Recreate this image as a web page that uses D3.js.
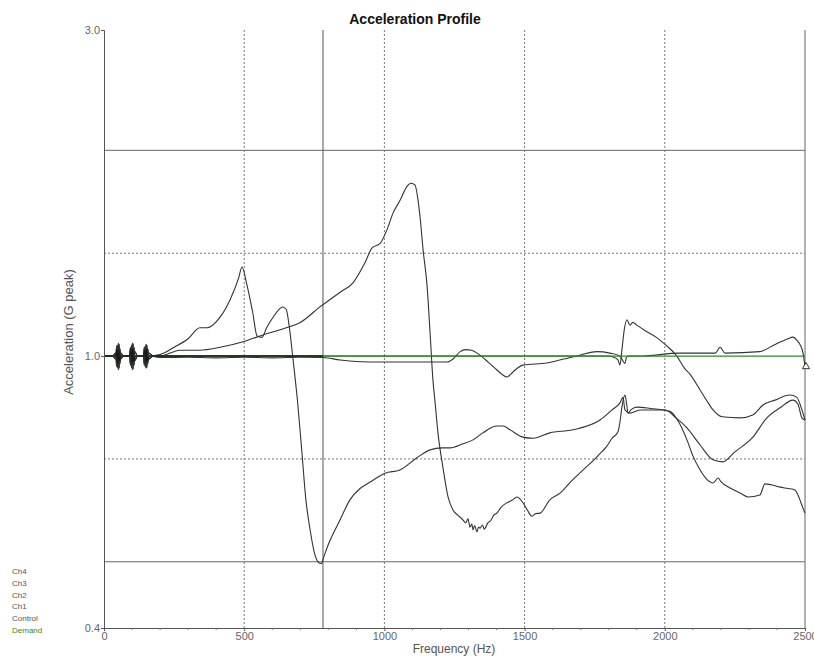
<!DOCTYPE html>
<html>
<head>
<meta charset="utf-8">
<script src="https://cdn.jsdelivr.net/npm/d3@7"></script>
<style>
  body { margin: 0; background: #fff; }
  svg { display: block; font-family: 'Liberation Sans', Arial, sans-serif; }
</style>
</head>
<body>
<svg id="chart" width="814" height="660"></svg>
<script>
'use strict'

// axis ticks and reference levels
const freqTicks = [0, 500, 1000, 1500, 2000, 2500]
const accelTicks = [0.4, 1.0, 3.0]
const abortLines = [0.5, 2.0]        // solid, +/- 6 dB
const alarmLines = [0.707, 1.414]    // dotted, +/- 3 dB
const cursorFreq = [781]
const endMarks = [[2500, 0.965]]
const legendLabels = ['Ch4', 'Ch3', 'Ch2', 'Ch1', 'Control', 'Demand']

// low frequency bursts (Hz, G)
const burstA = [[0,1.0],[30,1.0],[42,0.99],[45,1.035],[48,0.962],[51,1.045],[54,0.96],[57,1.025],[60,0.99],[70,1.0],
  [90,1.0],[95,1.03],[98,0.962],[101,1.045],[104,0.958],[107,1.03],[110,0.985],[120,1.0],
  [140,1.0],[144,1.03],[147,0.965],[150,1.04],[153,0.962],[156,1.025],[160,0.99],[175,1.0]]
const burstB = [[0,1.0],[30,1.0],[42,1.01],[45,0.965],[48,1.038],[51,0.955],[54,1.04],[57,0.975],[60,1.01],[70,1.0],
  [90,1.0],[95,0.97],[98,1.038],[101,0.955],[104,1.042],[107,0.97],[110,1.015],[120,1.0],
  [140,1.0],[144,0.97],[147,1.035],[150,0.96],[153,1.038],[156,0.975],[160,1.01],[175,1.0]]

const ch1 = burstB.concat([[200,1.0],[271,1.02],[342,1.02],[414,1.03],[499,1.05],[556,1.07],[650,1.10],[700,1.12],
  [770,1.18],[842,1.24],[888,1.28],[931,1.37],[956,1.44],[984,1.46],[1009,1.53],[1031,1.62],[1056,1.69],
  [1080,1.77],[1095,1.79],[1109,1.78],[1120,1.69],[1127,1.60],[1138,1.43],[1152,1.27],[1163,1.08],
  [1173,0.923],[1180,0.862],[1191,0.772],[1209,0.686],[1227,0.622],[1245,0.595],[1262,0.585],[1280,0.576],
  [1290,0.57],[1298,0.578],[1305,0.562],[1312,0.568],[1316,0.557],[1322,0.565],[1330,0.553],[1336,0.562],
  [1341,0.56],[1350,0.566],[1356,0.558],[1369,0.57],[1380,0.575],[1390,0.585],[1401,0.589],[1415,0.6],
  [1437,0.61],[1455,0.615],[1473,0.622],[1494,0.61],[1510,0.595],[1526,0.583],[1540,0.588],[1555,0.589],
  [1590,0.616],[1626,0.63],[1665,0.655],[1708,0.681],[1740,0.70],[1769,0.72],[1790,0.735],[1812,0.758],
  [1833,0.775],[1840,0.80],[1847,0.842],[1858,0.877],[1864,0.85],[1869,0.825],[1880,0.835],[1901,0.842],
  [1950,0.838],[2018,0.83],[2050,0.80],[2079,0.754],[2100,0.715],[2126,0.681],[2150,0.66],[2172,0.652],
  [2190,0.663],[2200,0.655],[2233,0.641],[2270,0.63],[2297,0.622],[2339,0.626],[2357,0.65],[2380,0.648],
  [2411,0.643],[2440,0.64],[2464,0.637],[2482,0.616],[2492,0.60],[2500,0.589]])

const ch2 = burstA.concat([[200,1.005],[250,1.03],[300,1.06],[342,1.10],[367,1.10],[414,1.14],[450,1.21],
  [480,1.30],[492,1.35],[510,1.27],[530,1.16],[546,1.07],[563,1.065],[580,1.10],[600,1.135],[638,1.18],
  [650,1.17],[660,1.11],[674,0.99],[690,0.86],[705,0.73],[720,0.616],[735,0.557],[750,0.516],[763,0.50],
  [775,0.497],[785,0.51],[800,0.53],[842,0.576],[877,0.616],[913,0.64],[949,0.654],[1002,0.674],[1055,0.681],
  [1116,0.71],[1163,0.729],[1205,0.734],[1234,0.734],[1280,0.744],[1316,0.754],[1351,0.772],[1401,0.79],
  [1423,0.79],[1448,0.78],[1494,0.761],[1530,0.758],[1590,0.772],[1672,0.78],[1769,0.806],[1812,0.834],
  [1840,0.854],[1851,0.87],[1858,0.834],[1876,0.825],[1911,0.834],[2001,0.834],[2040,0.812],[2079,0.785],
  [2126,0.741],[2172,0.705],[2207,0.70],[2250,0.724],[2314,0.761],[2364,0.812],[2411,0.84],[2457,0.862],
  [2475,0.85],[2489,0.812],[2500,0.806]])

const ch3 = burstB.concat([[200,0.995],[300,0.996],[400,0.994],[500,0.996],[600,0.994],[700,0.996],[781,0.995],
  [842,0.987],[900,0.982],[984,0.98],[1100,0.98],[1223,0.98],[1245,0.99],[1270,1.015],[1290,1.022],[1310,1.02],
  [1341,1.003],[1370,0.98],[1394,0.96],[1420,0.94],[1437,0.932],[1450,0.94],[1466,0.954],[1494,0.97],
  [1580,0.977],[1640,0.99],[1697,1.003],[1758,1.015],[1804,1.01],[1840,1.0],[1850,0.985],[1858,0.975],
  [1863,0.995],[1869,1.0],[1911,1.0],[2054,1.01],[2180,1.01],[2197,1.03],[2215,1.01],[2339,1.015],
  [2393,1.04],[2440,1.06],[2457,1.066],[2475,1.05],[2482,1.04],[2493,1.01],[2500,0.966]])

const ch4 = burstA.concat([[200,1.0],[800,1.0],[1400,1.0],[1800,1.0],[1815,0.997],[1833,0.987],[1840,0.97],
  [1847,1.02],[1855,1.09],[1865,1.13],[1876,1.11],[1886,1.12],[1900,1.11],[1929,1.09],[1970,1.065],[2001,1.04],
  [2043,1.0],[2070,0.96],[2090,0.94],[2126,0.892],[2150,0.86],[2172,0.834],[2204,0.815],[2268,0.812],
  [2314,0.82],[2350,0.848],[2393,0.862],[2446,0.877],[2471,0.87],[2489,0.834],[2500,0.806]])

// control only runs up to the sweep cursor
const control = [[0,1.0],[42,1.0],[46,1.02],[49,0.975],[52,1.025],[55,0.985],[60,1.0],[93,1.0],[97,1.022],
  [100,0.975],[103,1.025],[106,0.982],[112,1.0],[142,1.0],[146,1.02],[149,0.978],[152,1.022],[155,0.985],
  [162,1.0],[400,1.0],[781,1.0]]
const demand = [[0,1.0],[2500,1.0]]

const series = [
  {name: 'Ch4', data: ch4, color: '#333', width: 1.1},
  {name: 'Ch3', data: ch3, color: '#333', width: 1.1},
  {name: 'Ch2', data: ch2, color: '#333', width: 1.1},
  {name: 'Ch1', data: ch1, color: '#333', width: 1.1},
  {name: 'Demand', data: demand, color: '#2f8a2f', width: 1.2},
  {name: 'Control', data: control, color: '#1a1a1a', width: 1.5}
]

const svg = d3.select('#chart')
const plotLeft = 104, plotRight = 805, plotTop = 30, plotBottom = 628

const x = d3.scaleLinear().domain([0, 2500]).range([plotLeft, plotRight])
const y = d3.scaleLog().domain([0.4, 3.0]).range([plotBottom, plotTop])

// title
svg.append('text')
  .attr('x', 415).attr('y', 24)
  .attr('text-anchor', 'middle')
  .style('font-size', '14px').style('font-weight', 'bold').style('fill', '#111')
  .text('Acceleration Profile')

const grid = svg.append('g').attr('class', 'grid')

// vertical dotted grid
grid.selectAll('line.vgrid')
  .data(freqTicks.filter(f => f > 0 && f < 2500))
  .enter().append('line')
  .attr('class', 'vgrid')
  .attr('x1', d => x(d)).attr('x2', d => x(d))
  .attr('y1', plotTop).attr('y2', plotBottom)
  .attr('stroke', '#777').attr('stroke-dasharray', '2,2')

// tolerance lines
grid.selectAll('line.alarm')
  .data(alarmLines)
  .enter().append('line')
  .attr('class', 'alarm')
  .attr('x1', plotLeft).attr('x2', plotRight)
  .attr('y1', d => y(d)).attr('y2', d => y(d))
  .attr('stroke', '#777').attr('stroke-dasharray', '2,2')

grid.selectAll('line.abort')
  .data(abortLines)
  .enter().append('line')
  .attr('class', 'abort')
  .attr('x1', plotLeft).attr('x2', plotRight)
  .attr('y1', d => y(d)).attr('y2', d => y(d))
  .attr('stroke', '#666')

// cursor line
grid.selectAll('line.cursor')
  .data(cursorFreq)
  .enter().append('line')
  .attr('class', 'cursor')
  .attr('x1', d => x(d)).attr('x2', d => x(d))
  .attr('y1', plotTop).attr('y2', plotBottom)
  .attr('stroke', '#555')

// right border
grid.append('line')
  .attr('x1', plotRight).attr('x2', plotRight)
  .attr('y1', plotTop).attr('y2', plotBottom)
  .attr('stroke', '#666')

// traces
svg.append('clipPath').attr('id', 'plotClip')
  .append('rect')
  .attr('x', plotLeft).attr('y', plotTop - 2)
  .attr('width', plotRight - plotLeft + 4).attr('height', plotBottom - plotTop + 2)

const line = d3.line()
  .x(d => x(d[0]))
  .y(d => y(d[1]))
  .curve(d3.curveMonotoneX)

svg.append('g')
  .attr('clip-path', 'url(#plotClip)')
  .selectAll('path')
  .data(series)
  .enter().append('path')
  .attr('d', d => line(d.data))
  .attr('fill', 'none')
  .attr('stroke', d => d.color)
  .attr('stroke-width', d => d.width)

svg.selectAll('path.endMark')
  .data(endMarks)
  .enter().append('path')
  .attr('class', 'endMark')
  .attr('d', d3.symbol(d3.symbolTriangle, 22))
  .attr('transform', d => `translate(${x(d[0]) + 1}, ${y(d[1])})`)
  .attr('fill', '#fff').attr('stroke', '#333')

// axes
const xAxis = svg.append('g')
  .attr('transform', `translate(0, ${plotBottom})`)
  .call(d3.axisBottom(x).tickValues(freqTicks).tickSize(3).tickPadding(1).tickFormat(d3.format('d')))

xAxis.selectAll('.minor')
  .data(d3.range(100, 2500, 100).filter(f => f % 500 !== 0))
  .enter().append('line')
  .attr('class', 'minor')
  .attr('x1', d => x(d)).attr('x2', d => x(d))
  .attr('y1', 0).attr('y2', 2)
  .attr('stroke', '#777')

svg.append('g')
  .attr('transform', `translate(${plotLeft}, 0)`)
  .call(d3.axisLeft(y).tickValues(accelTicks).tickSize(3).tickPadding(1).tickFormat(d3.format('.1f')))

svg.selectAll('.domain').attr('stroke', '#555')
svg.selectAll('.tick line').attr('stroke', '#555')
svg.selectAll('.tick text')
  .style('font-size', '11px')
  .style('font-family', "'Liberation Sans', Arial, sans-serif")
  .attr('fill', '#666')

// axis titles
svg.append('text')
  .attr('x', 454).attr('y', 653)
  .attr('text-anchor', 'middle')
  .style('font-size', '12px').style('fill', '#555')
  .text('Frequency (Hz)')

svg.append('text')
  .attr('transform', 'translate(73, 332) rotate(-90)')
  .attr('text-anchor', 'middle')
  .style('font-size', '13px').style('fill', '#555')
  .text('Acceleration (G peak)')

// legend
svg.append('g')
  .selectAll('text')
  .data(legendLabels)
  .enter().append('text')
  .attr('x', 12)
  .attr('y', (d, i) => 574 + i * 11.8)
  .style('font-size', '8px')
  .style('fill', d => d === 'Demand' ? '#2f8a2f' : '#555')
  .text(d => d)
</script>
</body>
</html>
